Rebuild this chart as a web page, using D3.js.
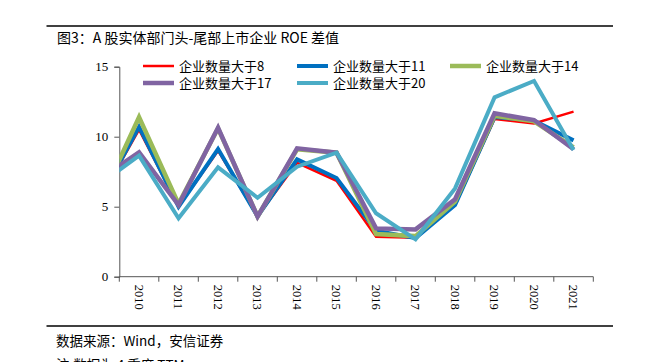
<!DOCTYPE html>
<html>
<head>
<meta charset="utf-8">
<script src="https://cdn.jsdelivr.net/npm/d3@7"></script>
<style>
  body { margin: 0; background: #fff; }
  svg { display: block; }
</style>
</head>
<body>
<div id="chart"></div>
<script>
// 2009 is only there so the lines run in from the left edge, like the original
var years = ["2009", "2010", "2011", "2012", "2013", "2014", "2015", "2016", "2017", "2018", "2019", "2020", "2021"]
var shownYears = years.slice(1)

var gt8  = [5.5, 10.5, 5.0, 9.0, 4.3, 8.14, 6.85, 2.86, 2.79, 5.1, 11.26, 10.95, 11.79]
var gt11 = [5.5, 10.7, 5.0, 9.12, 4.3, 8.38, 7.05, 3.29, 2.75, 5.12, 11.4, 11.15, 9.74]
var gt14 = [5.27, 11.39, 5.2, 10.6, 4.3, 9.1, 8.86, 3.05, 2.9, 5.36, 11.5, 11.1, 9.24]
var gt17 = [6.98, 8.88, 5.12, 10.64, 4.29, 9.17, 8.86, 3.45, 3.38, 5.53, 11.67, 11.19, 9.1]
var gt20 = [6.6, 8.64, 4.17, 7.81, 5.64, 7.86, 8.86, 4.53, 2.67, 6.31, 12.81, 13.98, 9.05]

var seriesNames = ["企业数量大于8", "企业数量大于11", "企业数量大于14", "企业数量大于17", "企业数量大于20"]
var seriesColors = ["#ff0000", "#0070c0", "#9bbb59", "#8064a2", "#4bacc6"]
var seriesWidths = [2.5, 4, 4.5, 4.5, 4]
var seriesValues = [gt8, gt11, gt14, gt17, gt20]

var yTicks = [0, 5, 10, 15]

var width = 669
var height = 362
var cjk = "'Noto Sans CJK SC', sans-serif"
var serif = "'Liberation Serif', 'Times New Roman', serif"

var svg = d3.select("#chart").append("svg")
  .attr("width", width).attr("height", height)

var plotLeft = 119.3, plotRight = 593.3, plotTop = 66.7, plotBottom = 276.7

var x = d3.scaleBand().domain(shownYears).range([plotLeft, plotRight])
var y = d3.scaleLinear().domain([0, 15]).range([plotBottom, plotTop])

function xPos(yr) {
  if (yr === "2009") return x("2010") - x.step() + x.bandwidth() / 2
  return x(yr) + x.bandwidth() / 2
}

// frame rules
svg.append("line").attr("x1", 46.5).attr("x2", 613).attr("y1", 26).attr("y2", 26)
  .attr("stroke", "#000").attr("stroke-width", 1.5)
svg.append("line").attr("x1", 46.5).attr("x2", 613).attr("y1", 326).attr("y2", 326)
  .attr("stroke", "#000").attr("stroke-width", 1.5)

svg.append("text")
  .attr("x", 57).attr("y", 43)
  .style("font-family", cjk).style("font-size", "14px")
  .text("图3：A 股实体部门头-尾部上市企业 ROE 差值")

svg.append("text")
  .attr("x", 56).attr("y", 346)
  .style("font-family", cjk).style("font-size", "13.5px")
  .text("数据来源：Wind，安信证券")
svg.append("text")
  .attr("x", 56).attr("y", 369.5)
  .style("font-family", cjk).style("font-size", "13.5px")
  .text("注:数据为 4 季度 TTM")

// y axis
var yAxis = svg.append("g")
  .attr("transform", "translate(" + plotLeft + ",0)")
  .call(d3.axisLeft(y).tickValues(yTicks).tickSize(5).tickPadding(6))
yAxis.select(".domain").attr("stroke", "#555")
yAxis.selectAll(".tick line").attr("stroke", "#555")
yAxis.selectAll("text").style("font-family", serif).style("font-size", "13px").attr("fill", "#000")

// x axis, ticks at the category boundaries
var xAxisG = svg.append("g").attr("transform", "translate(0," + plotBottom + ")")
xAxisG.append("line").attr("x1", plotLeft).attr("x2", plotRight).attr("stroke", "#555")
var bounds = shownYears.map(function(d) { return x(d) }).concat([plotRight])
xAxisG.selectAll(".tk").data(bounds).enter().append("line")
  .attr("x1", function(d) { return d }).attr("x2", function(d) { return d })
  .attr("y1", 0).attr("y2", 5).attr("stroke", "#555")
xAxisG.selectAll(".lbl").data(shownYears).enter().append("text")
  .attr("transform", function(d) { return "translate(" + (xPos(d) - 4.5) + ",8) rotate(90)" })
  .style("font-family", serif).style("font-size", "12.5px")
  .text(function(d) { return d })

// lines
svg.append("clipPath").attr("id", "plot")
  .append("rect").attr("x", plotLeft).attr("y", 0).attr("width", plotRight - plotLeft).attr("height", height)

var line = d3.line()
  .x(function(d, i) { return xPos(years[i]) })
  .y(function(d) { return y(d) })

var lines = svg.append("g").attr("clip-path", "url(#plot)")
seriesValues.forEach(function(vals, i) {
  lines.append("path")
    .datum(vals)
    .attr("d", line)
    .attr("fill", "none")
    .attr("stroke", seriesColors[i])
    .attr("stroke-width", seriesWidths[i])
    .attr("stroke-linejoin", "miter")
})

// legend
var legendPos = [[143, 66], [297, 66], [450, 66], [143, 83], [297, 83]]
seriesNames.forEach(function(name, i) {
  var g = svg.append("g").attr("transform", "translate(" + legendPos[i][0] + "," + legendPos[i][1] + ")")
  g.append("line").attr("x1", 0).attr("x2", 31)
    .attr("stroke", seriesColors[i]).attr("stroke-width", seriesWidths[i])
  g.append("text").attr("x", 36).attr("dy", "0.36em")
    .style("font-family", cjk).style("font-size", "13px")
    .text(name)
})
</script>
</body>
</html>
